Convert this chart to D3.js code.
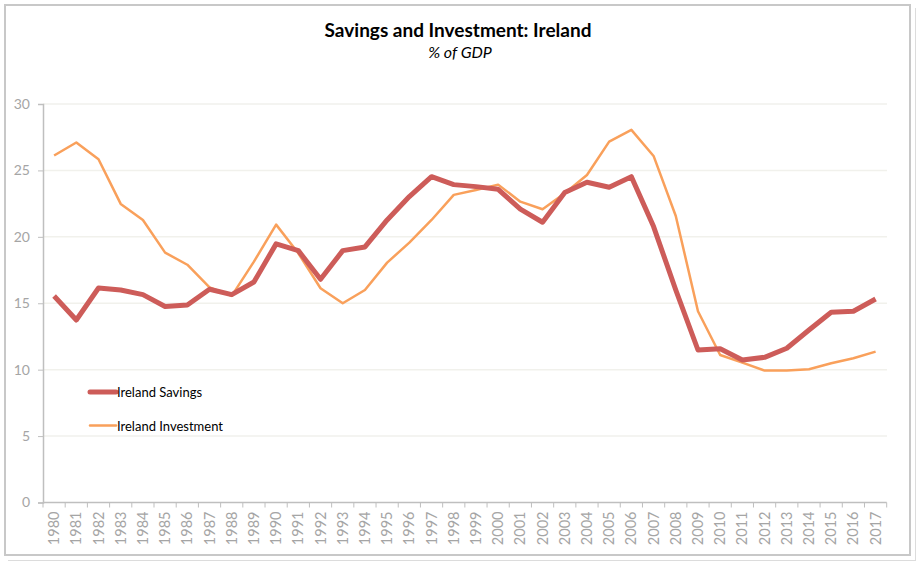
<html>

<head>
    <script src="https://d3js.org/d3.v7.min.js"></script>
    <style>
        body {
            margin: 0;
            background: #fff;
        }
        text {
            font-family: Lato, "Open Sans", sans-serif;
        }
    </style>
</head>

<body>
    <svg id="svg" width="917" height="564"></svg>

    <script>
        // **** Data ****
        const years = d3.range(1980, 2018).map(String)
        const savings = [15.55, 13.74, 16.15, 16.0, 15.65, 14.75, 14.87, 16.05, 15.65, 16.6,
            19.47, 18.96, 16.8, 18.96, 19.24, 21.27, 23.03, 24.53, 23.93, 23.78,
            23.58, 22.08, 21.1, 23.33, 24.11, 23.73, 24.53, 20.77, 16.0, 11.48,
            11.58, 10.73, 10.93, 11.61, 12.99, 14.32, 14.4, 15.32]
        const investment = [26.12, 27.1, 25.84, 22.48, 21.27, 18.81, 17.9, 16.2, 15.55, 18.13,
            20.92, 18.76, 16.13, 15.0, 16.0, 18.06, 19.56, 21.27, 23.16, 23.53,
            23.93, 22.65, 22.08, 23.28, 24.66, 27.17, 28.05, 26.09, 21.57, 14.4,
            11.1, 10.53, 9.93, 9.93, 10.03, 10.48, 10.86, 11.36]
        const yTicks = [0, 5, 10, 15, 20, 25, 30]
        const seriesNames = ['Ireland Savings', 'Ireland Investment']

        const svg = d3.select('#svg')

        // frame
        svg.append('line').attr('x1', 915.5).attr('x2', 915.5).attr('y1', 8).attr('y2', 561)
            .attr('stroke', '#dcdcdc').attr('stroke-width', 1)
        svg.append('line').attr('x1', 8).attr('x2', 915.5).attr('y1', 560.5).attr('y2', 560.5)
            .attr('stroke', '#dcdcdc').attr('stroke-width', 1)
        svg.append('rect').attr('x', 5).attr('y', 5).attr('width', 905).attr('height', 550)
            .attr('fill', 'none').attr('stroke', '#c8c8c8').attr('stroke-width', 2)

        // titles
        svg.append('text').attr('x', 458).attr('y', 37).attr('text-anchor', 'middle')
            .style('font-size', '19px').style('font-weight', 'bold').attr('fill', '#000')
            .text('Savings and Investment: Ireland')
        svg.append('text').attr('x', 460).attr('y', 58).attr('text-anchor', 'middle')
            .style('font-size', '16px').style('font-style', 'italic').attr('fill', '#000')
            .text('% of GDP')

        // scales
        const x = d3.scaleBand().domain(years).range([43, 886.7])
        const y = d3.scaleLinear().domain([0, 30]).range([502.5, 104])
        const cx = (d) => x(d) + x.bandwidth() / 2

        // gridlines
        svg.append('g').selectAll('line')
            .data(yTicks.filter((d) => d > 0))
            .enter()
            .append('line')
            .attr('x1', 43).attr('x2', 887)
            .attr('y1', (d) => y(d)).attr('y2', (d) => y(d))
            .attr('stroke', '#f1f1ec').attr('stroke-width', 1.5)

        // y axis
        const yAxis = svg.append('g').attr('transform', 'translate(43,0)')
            .call(d3.axisLeft(y).tickValues(yTicks).tickSize(5).tickPadding(8))
        yAxis.select('.domain').attr('stroke', '#bfbfbf').attr('stroke-width', 1.5)
        yAxis.selectAll('.tick line').attr('stroke', '#bfbfbf')
        yAxis.selectAll('.tick text').attr('fill', '#a5a5a5').style('font-size', '14px')
            .style('font-family', 'Lato, "Open Sans", sans-serif')

        // x axis with ticks at band edges
        const xAxis = svg.append('g').attr('transform', 'translate(0,502.5)')
        xAxis.append('line').attr('x1', 43).attr('x2', 886.7)
            .attr('stroke', '#bfbfbf').attr('stroke-width', 1.5)
        xAxis.selectAll('line.edge')
            .data(years.concat(['end']))
            .enter()
            .append('line')
            .attr('class', 'edge')
            .attr('x1', (d, i) => x.range()[0] + i * x.step())
            .attr('x2', (d, i) => x.range()[0] + i * x.step())
            .attr('y1', 0).attr('y2', 5)
            .attr('stroke', '#bfbfbf')
        xAxis.selectAll('text')
            .data(years)
            .enter()
            .append('text')
            .attr('transform', (d) => `translate(${cx(d) + 5},9) rotate(-90)`)
            .attr('text-anchor', 'end')
            .attr('fill', '#a5a5a5')
            .style('font-size', '14.5px')
            .text((d) => d)

        // lines
        const line = d3.line().x((d, i) => cx(years[i])).y((d) => y(d))
        svg.append('path').datum(investment)
            .attr('d', line).attr('fill', 'none')
            .attr('stroke', '#f9a05b').attr('stroke-width', 2.5).attr('stroke-linejoin', 'round')
        svg.append('path').datum(savings)
            .attr('d', line).attr('fill', 'none')
            .attr('stroke', '#cd5c59').attr('stroke-width', 5).attr('stroke-linejoin', 'round')

        // legend
        const legend = svg.append('g')
        const legendStyles = [{ c: '#cd5c59', w: 5 }, { c: '#f9a05b', w: 2.5 }]
        seriesNames.forEach((name, i) => {
            const ly = 392 + i * 33.5
            legend.append('line').attr('x1', 90).attr('x2', 116).attr('y1', ly).attr('y2', ly)
                .attr('stroke', legendStyles[i].c).attr('stroke-width', legendStyles[i].w)
                .attr('stroke-linecap', 'round')
            legend.append('text').attr('x', 117).attr('y', ly + 5)
                .style('font-size', '13px').attr('fill', '#000').text(name)
        })
    </script>

</body>

</html>
